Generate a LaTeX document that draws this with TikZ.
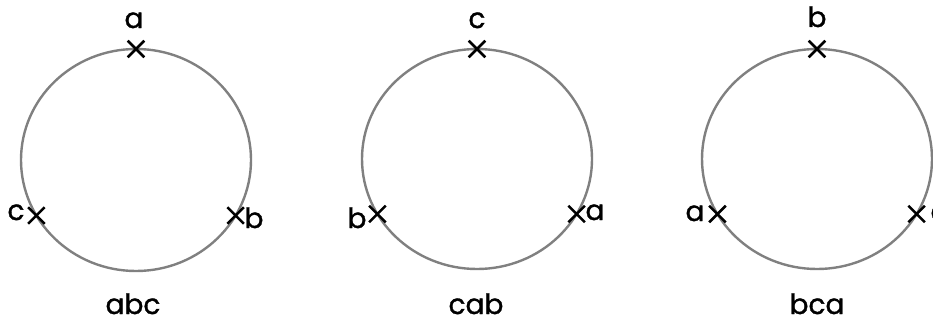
\documentclass[tikz,border=0pt]{standalone}
\usepackage{fontspec}
\setmainfont{Poppins}[FakeBold=1.2]
\usetikzlibrary{shapes.misc}
\definecolor{ringgray}{RGB}{128,128,128}
\begin{document}
\begin{tikzpicture}[x=1pt,y=-1pt,
  ring/.style={draw=ringgray, line width=2.4pt},
  xmark/.style={cross out, draw=black, line width=2.6pt, minimum size=14pt, inner sep=0pt},
  lbl/.style={font=\fontsize{28}{32}\selectfont, inner sep=0pt, anchor=base}]
\clip (0,0) rectangle (933,324);
% circle 1 : abc
\draw[ring] (136,160) ellipse [x radius=115, y radius=111];
\node[xmark] (m1a) at (136,49) {};
\node[xmark] (m1c) at (36.4,215.5) {};
\node[xmark] (m1b) at (235.6,215.5) {};
\node[lbl] (l1a) at (134,28) {a};
\node[lbl] (l1c) at (16,220) {c};
\node[lbl] (l1b) at (254,228) {b};
\node[lbl] (t1) at (133,314) {abc};
% circle 2 : cab
\draw[ring] (477,159) ellipse [x radius=115, y radius=110];
\node[xmark] (m2c) at (477,49) {};
\node[xmark] (m2b) at (377.4,214) {};
\node[xmark] (m2a) at (576.6,214) {};
\node[lbl] (l2c) at (477,28) {c};
\node[lbl] (l2b) at (357,228) {b};
\node[lbl] (l2a) at (595,220) {a};
\node[lbl] (t2) at (476,314) {cab};
% circle 3 : bca
\draw[ring] (817,159) ellipse [x radius=115, y radius=110];
\node[xmark] (m3b) at (817,49) {};
\node[xmark] (m3a) at (717.4,214) {};
\node[xmark] (m3c) at (916.6,214) {};
\node[lbl] (l3b) at (817,27) {b};
\node[lbl] (l3a) at (695,221) {a};
\node[lbl] (l3c) at (939,221) {c};
\node[lbl] (t3) at (817,314) {bca};
\end{tikzpicture}
\end{document}
